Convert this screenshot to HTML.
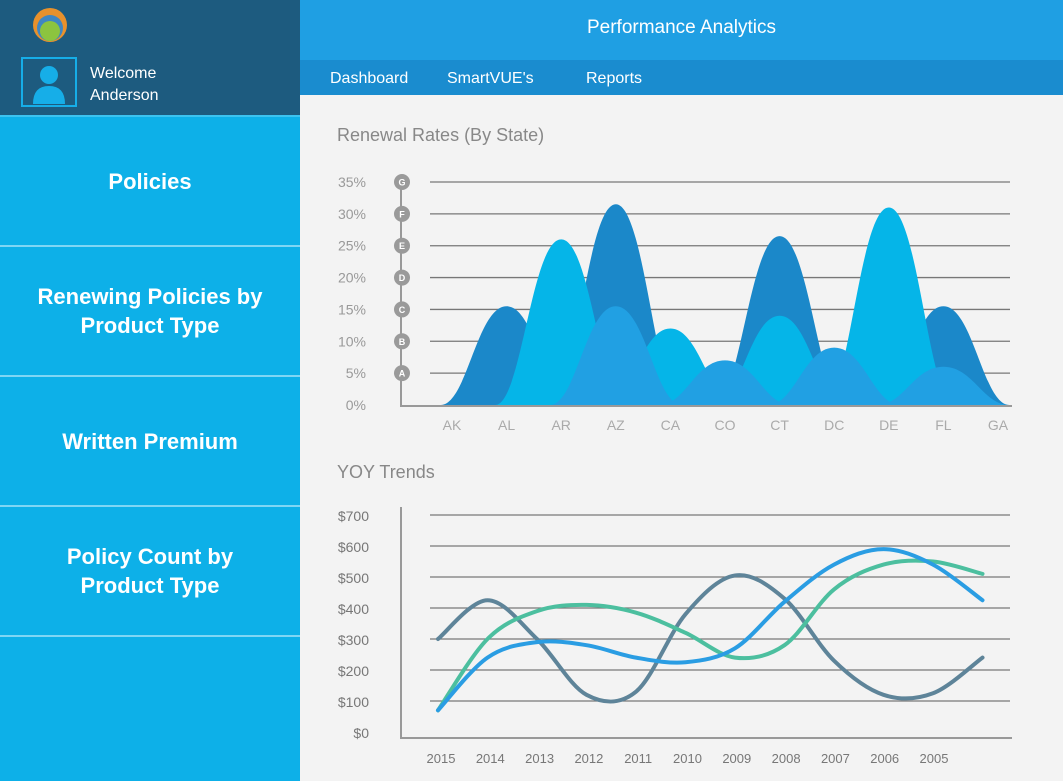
<!DOCTYPE html>
<html><head><meta charset="utf-8">
<style>
*{margin:0;padding:0;box-sizing:border-box}
body{width:1063px;height:781px;overflow:hidden;font-family:"Liberation Sans",sans-serif;background:#f3f3f3;position:relative}
#side{position:absolute;left:0;top:0;width:300px;height:781px;background:#0db0e8}
#prof{position:absolute;left:0;top:0;width:300px;height:117px;background:#1d5b7f;border-bottom:2px solid #3cc3f0}
.menu{position:absolute;left:0;width:300px;height:130px;border-bottom:2px solid #7fd6f4;color:#fff;font-weight:bold;font-size:22px;display:flex;align-items:center;justify-content:center;text-align:center;line-height:29px}
#head{position:absolute;left:300px;top:0;width:763px;height:60px;background:#1f9fe3;color:#fff;font-size:19px;text-align:center;line-height:56px}
#nav{position:absolute;left:300px;top:60px;width:763px;height:35px;background:#1a8ccf;color:#fff;font-size:16px}
#nav span{position:absolute;top:10px}
.title{position:absolute;color:#888;font-size:18px}
svg text{font-family:"Liberation Sans",sans-serif}
</style></head><body>
<div id="side">
 <div id="prof">
  <svg width="300" height="117">
   <circle cx="50" cy="25" r="17" fill="#e8912c"/>
   <circle cx="50" cy="28" r="13" fill="#3f86c2"/>
   <circle cx="50" cy="31" r="10" fill="#8cc43f"/>
   <rect x="22" y="58" width="54" height="48" fill="none" stroke="#16aee8" stroke-width="2"/>
   <circle cx="49" cy="75" r="9" fill="#16aee8"/>
   <path d="M33 104 Q33 86 49 86 Q65 86 65 104 Z" fill="#16aee8"/>
   <text x="90" y="78" fill="#fff" font-size="16">Welcome</text>
   <text x="90" y="100" fill="#fff" font-size="16">Anderson</text>
  </svg>
 </div>
 <div class="menu" style="top:117px">Policies</div>
 <div class="menu" style="top:247px">Renewing Policies by<br>Product Type</div>
 <div class="menu" style="top:377px">Written Premium</div>
 <div class="menu" style="top:507px">Policy Count by<br>Product Type</div>
</div>
<div id="head">Performance Analytics</div>
<div id="nav">
 <span style="left:30px">Dashboard</span>
 <span style="left:147px">SmartVUE's</span>
 <span style="left:286px">Reports</span>
</div>
<div class="title" style="left:337px;top:125px">Renewal Rates (By State)</div>
<div class="title" style="left:337px;top:462px">YOY Trends</div>
<svg id="c1" width="1063" height="781" style="position:absolute;left:0;top:0"></svg>
<script>
const states=["AK","AL","AR","AZ","CA","CO","CT","DC","DE","FL","GA"];
const darkVals=[0,15.5,0,31.5,0,0,26.5,0,0,15.5,0];
const cyanVals=[0,0,26,0,12,0,14,0,31,0,0];
const medVals=[0,0,0,15.5,0,7,0,9,0,6,0];
const pctTicks=[0,5,10,15,20,25,30,35];
const badgeLabels=["A","B","C","D","E","F","G"];
const years=["2015","2014","2013","2012","2011","2010","2009","2008","2007","2006","2005",""];
const grayVals=[300,425,300,120,130,380,505,430,230,120,125,240];
const blueVals=[70,240,290,280,240,225,270,420,540,590,540,425];
const tealVals=[70,300,390,410,385,320,240,280,460,540,550,510];
const moneyTicks=[0,100,200,300,400,500,600,700];

const NS="http://www.w3.org/2000/svg";
const svg=document.getElementById('c1');
function mk(t,a,p){const e=document.createElementNS(NS,t);for(const k in a)e.setAttribute(k,a[k]);(p||svg).appendChild(e);return e;}
const x1=i=>452+i*54.6, y1=v=>405-v*(223/35);
pctTicks.forEach((t,i)=>{
 const y=y1(t);
 if(t>0){const l=mk('line',{x1:430,x2:1010,y1:y,y2:y,stroke:'#777','stroke-width':1.3});
 
 }
 const tx=mk('text',{x:366,y:y+5,'text-anchor':'end',fill:'#999','font-size':14});tx.textContent=t+'%';
 
 
});
mk('line',{x1:401,x2:401,y1:182,y2:406,stroke:'#999','stroke-width':2});
mk('line',{x1:400,x2:1012,y1:406,y2:406,stroke:'#999','stroke-width':2});
badgeLabels.forEach((b,i)=>{
 const y=y1((i+1)*5);
 const c=mk('circle',{cx:402,cy:y,r:8,fill:'#9a9a9a'});
 
 
 const t=mk('text',{x:402,y:y+3.5,'text-anchor':'middle',fill:'#fff','font-size':9,'font-weight':'bold'});t.textContent=b;
});
function bumps(vals,color,name){
 vals.forEach((v,i)=>{
  if(!v)return;
  const cx=x1(i),w=66,b=405,p=y1(v);
  const d=`M${cx-w} ${b} C${cx-w*0.6} ${b} ${cx-w*0.45} ${p} ${cx} ${p} C${cx+w*0.45} ${p} ${cx+w*0.6} ${b} ${cx+w} ${b} Z`;
  const e=mk('path',{d:d,fill:color});
  
  
 });
}
bumps(darkVals,'#1b88c9','dark-peak');
bumps(cyanVals,'#05b5e8','cyan-peak');
bumps(medVals,'#21a0e3','medium-peak');
states.forEach((s,i)=>{const t=mk('text',{x:x1(i),y:430,'text-anchor':'middle',fill:'#aaa','font-size':14});t.textContent=s;
 
 });
const x2=i=>438+i*49.5, y2=v=>732-v*0.31;
moneyTicks.forEach(t=>{
 const y=y2(t);
 if(t>0){const l=mk('line',{x1:430,x2:1010,y1:y,y2:y,stroke:'#777','stroke-width':1.3});
 
 }
 const tx=mk('text',{x:369,y:y+6,'text-anchor':'end',fill:'#777','font-size':14});tx.textContent='$'+t;
 
 
});
mk('line',{x1:401,x2:401,y1:507,y2:739,stroke:'#999','stroke-width':2});
mk('line',{x1:400,x2:1012,y1:738,y2:738,stroke:'#999','stroke-width':2});
years.forEach((s,i)=>{if(!s)return;const t=mk('text',{x:441+i*49.3,y:763,'text-anchor':'middle',fill:'#777','font-size':13});t.textContent=s;
 
 });
function smooth(vals){
 const P=vals.map((v,i)=>[x2(i),y2(v)]);
 let d=`M${P[0][0]} ${P[0][1]}`;
 for(let i=0;i<P.length-1;i++){
  const p0=P[Math.max(0,i-1)],p1=P[i],p2=P[i+1],p3=P[Math.min(P.length-1,i+2)];
  d+=` C${p1[0]+(p2[0]-p0[0])/6} ${p1[1]+(p2[1]-p0[1])/6} ${p2[0]-(p3[0]-p1[0])/6} ${p2[1]-(p3[1]-p1[1])/6} ${p2[0]} ${p2[1]}`;
 }
 return d;
}
[[grayVals,'#5e8499','gray-trend-line'],[tealVals,'#4cbf9f','teal-trend-line'],[blueVals,'#2a9de3','blue-trend-line']].forEach(([v,c,n])=>{
 const e=mk('path',{d:smooth(v),fill:'none',stroke:c,'stroke-width':4,'stroke-linecap':'round'});
 
 
});
</script>
</body></html>
